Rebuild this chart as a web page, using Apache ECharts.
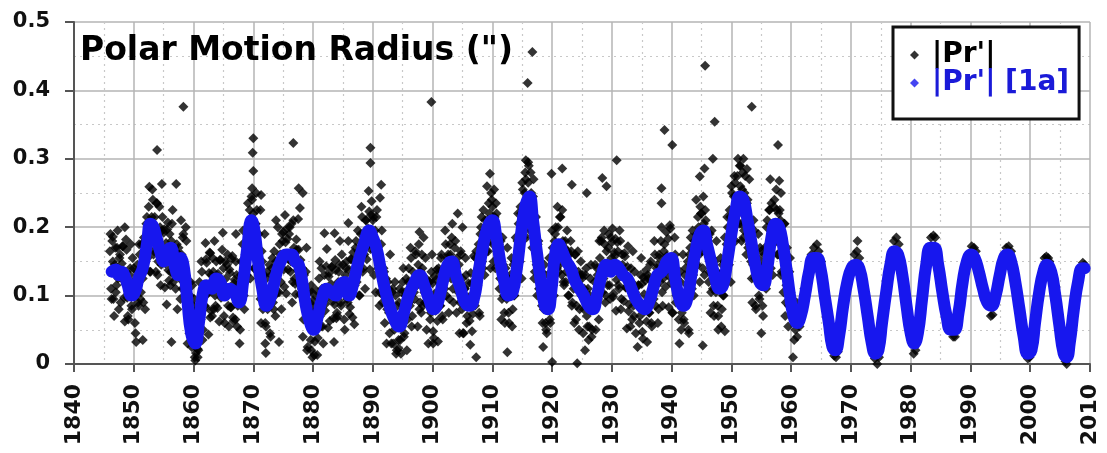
<!DOCTYPE html>
<html><head><meta charset="utf-8">
<script src="https://cdn.jsdelivr.net/npm/echarts@6/dist/echarts.min.js"></script>
<style>html,body{margin:0;padding:0;background:#fff}#c{width:1107px;height:453px}</style>
</head><body><div id="c"></div>
<script>
// ---- data ----
const seriesNames = ["|Pr'|", "|Pr'| [1a]"];
const titleText = 'Polar Motion Radius (")';
const yTicks = [0, 0.1, 0.2, 0.3, 0.4, 0.5];
const xTicks = [1840,1850,1860,1870,1880,1890,1900,1910,1920,1930,1940,1950,1960,1970,1980,1990,2000,2010];

// |Pr'| [1a]: 1-year smoothed polar motion radius (arcsec), [year, value]
const prSmooth1a = [
[1846.3,0.135],[1847,0.138],[1847.5,0.13],[1848,0.135],[1848.5,0.128],[1849,0.115],[1849.6,0.10],[1850.2,0.105],[1850.8,0.125],
[1851.5,0.14],[1852.2,0.175],[1852.8,0.205],[1853.3,0.2],[1853.8,0.185],[1854.4,0.165],[1855,0.15],[1855.6,0.165],[1856.2,0.17],
[1856.8,0.145],[1857.4,0.13],[1857.9,0.155],[1858.4,0.14],[1859,0.09],[1859.6,0.045],[1860.3,0.03],[1860.9,0.06],[1861.5,0.1],
[1862.2,0.115],[1863,0.11],[1863.8,0.125],[1864.5,0.12],[1865.2,0.1],[1866,0.11],[1866.8,0.105],[1867.6,0.09],[1868.3,0.12],
[1869,0.17],[1869.7,0.21],[1870.2,0.195],[1870.8,0.15],[1871.5,0.11],[1872.2,0.085],[1873,0.1],[1873.8,0.13],[1874.6,0.15],
[1875.5,0.16],[1876.4,0.16],[1877,0.15],[1877.6,0.145],[1878.2,0.12],[1878.8,0.085],[1879.5,0.06],[1880.1,0.05],[1880.8,0.07],
[1881.5,0.095],[1882.3,0.11],[1883,0.105],[1883.8,0.1],[1884.5,0.115],[1885.3,0.12],[1886,0.1],[1886.8,0.12],[1887.6,0.15],
[1888.5,0.175],[1889.4,0.195],[1890,0.185],[1890.6,0.17],[1891.3,0.14],[1892,0.11],[1892.8,0.085],[1893.6,0.065],[1894.4,0.055],
[1895.2,0.075],[1896,0.1],[1897,0.12],[1897.8,0.13],[1898.6,0.115],[1899.4,0.095],[1900.2,0.08],[1900.9,0.09],[1901.7,0.12],
[1902.5,0.145],[1903.2,0.15],[1903.9,0.13],[1904.7,0.11],[1905.4,0.09],[1906.2,0.085],[1906.9,0.095],[1907.6,0.13],[1908.4,0.17],
[1909.2,0.2],[1910,0.21],[1910.6,0.19],[1911.3,0.15],[1912,0.12],[1912.7,0.1],[1913.4,0.105],[1914.1,0.14],[1914.8,0.19],
[1915.5,0.23],[1916.2,0.245],[1916.8,0.21],[1917.5,0.16],[1918.2,0.115],[1918.8,0.085],[1919.3,0.08],[1919.9,0.11],[1920.5,0.16],
[1921.1,0.175],[1921.7,0.165],[1922.4,0.15],[1923.1,0.14],[1923.9,0.12],[1924.6,0.11],[1925.3,0.1],[1926.1,0.085],[1926.8,0.08],
[1927.5,0.1],[1928.3,0.13],[1929.1,0.145],[1929.8,0.135],[1930.5,0.145],[1931.2,0.14],[1931.9,0.13],[1932.6,0.125],[1933.3,0.11],
[1934,0.095],[1934.8,0.085],[1935.5,0.08],[1936.2,0.09],[1936.9,0.11],[1937.6,0.13],[1938.4,0.135],[1939.2,0.15],[1939.9,0.155],
[1940.6,0.125],[1941.3,0.095],[1942,0.085],[1942.6,0.095],[1943.3,0.13],[1944,0.165],[1944.7,0.19],[1945.3,0.195],[1945.9,0.175],
[1946.6,0.15],[1947.3,0.125],[1948,0.11],[1948.6,0.115],[1949.3,0.15],[1950,0.19],[1950.7,0.225],[1951.4,0.245],[1952,0.24],
[1952.6,0.215],[1953.3,0.18],[1954,0.145],[1954.7,0.12],[1955.3,0.115],[1956,0.14],[1956.7,0.185],[1957.4,0.205],[1958,0.2],
[1958.6,0.175],[1959.2,0.14],[1959.8,0.1],[1960.4,0.07],[1961,0.06],[1961.6,0.07],[1962.3,0.1],[1963,0.135],[1963.7,0.155],
[1964.3,0.155],[1964.9,0.14],[1965.6,0.1],[1966.3,0.06],[1966.9,0.025],[1967.4,0.02],[1968,0.04],[1968.7,0.085],[1969.4,0.12],
[1970.1,0.14],[1970.8,0.145],[1971.4,0.14],[1972.1,0.11],[1972.8,0.07],[1973.5,0.03],[1974.1,0.015],[1974.6,0.02],[1975.2,0.06],
[1975.9,0.105],[1976.6,0.145],[1977.3,0.165],[1977.9,0.16],[1978.6,0.13],[1979.3,0.085],[1980,0.045],[1980.6,0.03],[1981.2,0.045],
[1981.9,0.095],[1982.6,0.145],[1983.3,0.17],[1983.9,0.17],[1984.6,0.145],[1985.3,0.105],[1986,0.07],[1986.7,0.05],[1987.3,0.05],
[1988,0.075],[1988.7,0.12],[1989.4,0.15],[1990.1,0.16],[1990.7,0.155],[1991.4,0.135],[1992.1,0.11],[1992.8,0.09],[1993.5,0.085],
[1994.2,0.1],[1994.9,0.13],[1995.6,0.155],[1996.2,0.16],[1996.8,0.15],[1997.5,0.12],[1998.2,0.08],[1998.9,0.04],[1999.6,0.015],
[2000.2,0.02],[2000.8,0.06],[2001.5,0.105],[2002.2,0.135],[2002.8,0.145],[2003.5,0.135],[2004.2,0.1],[2004.9,0.055],[2005.6,0.015],
[2006.1,0.01],[2006.6,0.03],[2007.3,0.08],[2008,0.12],[2008.7,0.14],[2009.1,0.14]
];

// |Pr'| raw values in milli-arcsec, one row per year from rawStartYear
const rawStartYear = 1846;
// first set of samples within each year
const rawSampleOffsetsA = [0.1, 0.3, 0.5, 0.7, 0.9];
const prRawMasA = [
[190,95,150,70,170],[115,195,80,160,130],[172,122,62,182,97],[65,130,175,80,115],[115,45,135,90,175],
[95,175,125,185,80],[205,155,230,135,195],[255,160,215,135,235],[150,230,115,195,165],[197,147,87,207,122],
[115,180,225,130,165],[150,80,170,125,210],[110,190,140,200,95],[95,45,120,25,85],[95,5,55,10,75],
[70,150,35,115,85],[153,103,43,163,78],[70,135,180,85,120],[132,62,152,107,192],[70,150,100,160,55],
[133,83,158,63,123],[150,55,110,30,130],[115,195,80,160,130],[235,185,125,245,160],[140,205,250,155,190],
[130,60,150,105,190],[55,135,85,145,40],[140,90,165,70,130],[200,105,160,80,180],[138,218,103,183,153],
[200,150,90,210,125],[102,167,212,117,152],[110,40,130,85,170],[25,105,55,115,10],[83,33,108,13,73],
[150,55,110,30,130],[88,168,53,133,103],[142,92,32,152,67],[70,135,180,85,120],[120,50,140,95,180],
[73,153,103,163,58],[170,120,195,100,160],[230,135,190,110,210],[173,253,138,218,188],[215,165,105,225,140],
[85,150,195,100,135],[100,30,120,75,160],[30,110,60,120,15],[85,35,110,15,75],[140,45,100,20,120],
[90,170,55,135,105],[165,115,55,175,90],[75,140,185,90,125],[100,30,120,75,160],[48,128,78,138,33],
[135,85,160,65,125],[195,100,155,75,175],[125,205,90,170,140],[155,105,45,165,80],[45,110,155,60,95],
[98,28,118,73,158],[85,165,115,175,70],[200,150,225,130,190],[260,165,220,140,240],[175,255,140,220,190],
[175,125,65,185,100],[60,125,170,75,110],[125,55,145,100,185],[140,220,170,230,125],[255,205,280,185,245],
[290,195,250,170,270],[135,215,100,180,150],[135,85,25,145,60],[45,110,155,60,95],[170,100,190,145,230],
[135,215,165,225,120],[170,120,195,100,160],[180,85,140,60,160],[85,165,50,130,100],[130,80,20,140,55],
[35,100,145,50,85],[120,50,140,95,180],[105,185,135,195,90],[165,115,190,95,155],[198,103,158,78,178],
[115,195,80,160,130],[162,112,52,172,87],[55,120,165,70,105],[95,25,115,70,155],[47,127,77,137,32],
[125,75,150,55,115],[180,85,140,60,160],[120,200,85,165,135],[193,143,83,203,118],[75,140,185,90,125],
[100,30,120,75,160],[60,140,90,150,45],[170,120,195,100,160],[240,145,200,120,220],[165,245,130,210,180],
[185,135,75,195,110],[70,135,180,85,120],[125,55,145,100,185],[135,215,165,225,120],[250,200,275,180,240],
[300,205,260,180,280],[195,275,160,240,210],[200,150,90,210,125],[80,145,190,95,130],[140,70,160,115,200],
[145,225,175,235,130],[230,180,255,160,220],[225,130,185,105,205],[90,170,55,135,105]
];
// second set of samples within each year
const rawSampleOffsetsB = [0.0, 0.2, 0.4, 0.6, 0.8];
const prRawMasB = [
[165,110,180,95,145],[105,170,125,155,90],[147,172,97,117,167],[70,115,140,85,155],[140,60,125,145,85],
[160,105,175,90,140],[150,215,170,200,135],[215,240,165,185,235],[130,175,200,145,215],[192,112,177,197,137],
[190,135,205,120,170],[110,175,130,160,95],[160,185,110,130,180],[30,75,100,45,115],[75,10,60,80,20],
[120,65,135,50,100],[83,148,103,133,68],[130,155,80,100,150],[82,127,152,97,167],[140,60,125,145,85],
[138,83,153,68,118],[65,130,85,115,50],[150,175,100,120,170],[155,200,225,170,240],[220,140,205,225,165],
[150,95,165,80,130],[60,125,80,110,45],[130,155,80,100,150],[105,150,175,120,190],[193,113,178,198,138],
[190,135,205,120,170],[117,182,137,167,102],[115,140,65,85,135],[20,65,90,35,105],[93,13,78,98,38],
[125,70,140,55,105],[78,143,98,128,63],[117,142,67,87,137],[75,120,145,90,160],[145,65,130,150,90],
[138,83,153,68,118],[115,180,135,165,100],[190,215,140,160,210],[153,198,223,168,238],[210,130,195,215,155],
[160,105,175,90,140],[60,125,80,110,45],[80,105,30,50,100],[20,65,90,35,105],[120,40,105,125,65],
[140,85,155,70,120],[95,160,115,145,80],[135,160,85,105,155],[50,95,120,65,135],[118,38,103,123,63],
[140,85,155,70,120],[110,175,130,160,95],[160,185,110,130,180],[75,120,145,90,160],[125,45,110,130,70],
[118,63,133,48,98],[90,155,110,140,75],[190,215,140,160,210],[165,210,235,180,250],[230,150,215,235,175],
[165,110,180,95,145],[75,140,95,125,60],[130,155,80,100,150],[135,180,205,150,220],[265,185,250,270,210],
[265,210,280,195,245],[125,190,145,175,110],[110,135,60,80,130],[50,95,120,65,135],[195,115,180,200,140],
[200,145,215,130,180],[115,180,135,165,100],[140,165,90,110,160],[65,110,135,80,150],[125,45,110,130,70],
[110,55,125,40,90],[80,145,100,130,65],[155,180,105,125,175],[100,145,170,115,185],[178,98,163,183,123],
[165,110,180,95,145],[92,157,112,142,77],[115,140,65,85,135],[45,90,115,60,130],[117,37,102,122,62],
[130,75,145,60,110],[95,160,115,145,80],[155,180,105,125,175],[113,158,183,128,198],[155,75,140,160,100],
[120,65,135,50,100],[65,130,85,115,50],[160,185,110,130,180],[145,190,215,160,230],[220,140,205,225,165],
[175,120,190,105,155],[85,150,105,135,70],[130,155,80,100,150],[130,175,200,145,215],[260,180,245,265,205],
[275,220,290,205,255],[185,250,205,235,170],[175,200,125,145,195],[85,130,155,100,170],[165,85,150,170,110],
[210,155,225,140,190],[175,240,195,225,160],[185,210,135,155,205],[70,115,140,85,155]
];

// |Pr'| individual points (outliers and post-1960 edges), [year, arcsec]
const prRawExtra = [
[1858.3,0.376],[1853.9,0.313],[1852.6,0.259],[1854.7,0.263],[1857.1,0.263],
[1870,0.33],[1869.9,0.309],[1870,0.282],[1869.8,0.257],[1871.3,0.247],[1871.2,0.225],
[1850.4,0.032],[1851.5,0.035],[1856.3,0.032],[1860.4,0.016],[1860.7,0.022],
[1872,0.03],[1872.1,0.016],[1873.8,0.21],
[1876.7,0.323],[1877.6,0.257],[1878.3,0.25],[1877.8,0.228],
[1889.6,0.316],[1889.6,0.294],[1891.4,0.262],[1891.2,0.243],
[1899.8,0.383],[1879.7,0.02],[1894.3,0.023],[1900.1,0.03],[1907.3,0.01],[1874.3,0.032],
[1916.7,0.456],[1915.9,0.411],[1915.6,0.298],[1916,0.295],[1909.6,0.278],
[1921.7,0.286],[1919.9,0.278],[1930.8,0.298],[1938.8,0.342],[1940.1,0.32],[1938.3,0.257],[1938.3,0.235],
[1920,0.003],[1924.2,0.001],[1912.5,0.017],[1928.4,0.272],[1929.1,0.26],[1925.8,0.25],[1923.3,0.262],
[1953.4,0.376],[1947.2,0.354],[1945.6,0.436],[1957.8,0.32],[1946.9,0.3],[1945.5,0.286],[1944.7,0.274],
[1952,0.3],[1952.6,0.285],[1953,0.27],[1951.5,0.29],[1956.5,0.27],[1958,0.268],[1958.3,0.25],
[1945.2,0.027],[1947.8,0.05],[1948.9,0.048],[1955,0.045],
[1862,0.177],[1862.8,0.162],[1867.1,0.19],[1881.9,0.191],[1883.6,0.191],[1885.9,0.206],[1897.8,0.193],[1904.2,0.22],[1905,0.2],
[1846.5,0.186],[1848.5,0.2],
[1960.3,0.01],[1960.5,0.035],[1960.7,0.05],[1961,0.04],[1961.2,0.075],[1961.4,0.055],[1960.9,0.09],[1961.6,0.065],[1962.2,0.11],
[1963.8,0.17],[1964.3,0.175],[1964.6,0.165],[1963.4,0.16],[1965,0.15],
[1967.2,0.012],[1967.5,0.01],[1967.8,0.018],
[1970.6,0.16],[1971,0.165],[1971.1,0.18],[1971.4,0.155],
[1974,0.008],[1974.4,0.0],[1974.7,0.01],
[1977.2,0.18],[1977.6,0.185],[1978,0.175],
[1980.5,0.015],[1980.8,0.02],
[1983.4,0.185],[1983.8,0.188],[1984.1,0.185],
[1987.1,0.04],[1987.4,0.04],
[1990.2,0.172],[1990.6,0.17],[1990.9,0.165],
[1993.4,0.07],[1993.7,0.072],
[1996,0.17],[1996.4,0.172],[1996.8,0.165],
[1999.6,0.008],[1999.9,0.01],
[2002.4,0.155],[2002.7,0.157],[2003,0.155],[2003.2,0.15],
[2005.9,0.004],[2006.1,0.0],[2006.3,0.008],
[2008.8,0.148],[2009.1,0.145]
];

// ---- build chart ----
const rawPoints = [];
function addRows(rows, offsets) {
  rows.forEach((row, i) => {
    row.forEach((mas, k) => rawPoints.push([rawStartYear + i + offsets[k], mas / 1000]));
  });
}
addRows(prRawMasA, rawSampleOffsetsA);
addRows(prRawMasB, rawSampleOffsetsB);
prRawExtra.forEach(p => rawPoints.push(p));

const FONT = 'DejaVu Sans';
const BLUE = '#1717ee';
const chart = echarts.init(document.getElementById('c'), null, {renderer: 'canvas'});
chart.setOption({
  animation: false,
  backgroundColor: '#fff',
  title: {
    text: titleText, left: 80, top: 35, padding: 0,
    textStyle: {fontFamily: FONT, fontWeight: 'bold', fontSize: 33, color: '#000'}
  },
  legend: {
    left: 893, top: 27, orient: 'vertical',
    padding: [14, 10, 22, 17], itemGap: 0, itemWidth: 9, itemHeight: 9,
    borderColor: '#111', borderWidth: 3, backgroundColor: '#fff',
    textStyle: {fontFamily: FONT, fontWeight: 'bold', fontSize: 28, color: '#000', lineHeight: 27, padding: [0, 0, 0, 8]},
    data: [
      {name: seriesNames[0], icon: 'diamond'},
      {name: seriesNames[1], icon: 'diamond', textStyle: {color: '#1a1ad8'}}
    ]
  },
  grid: {left: 74, right: 17, top: 22, bottom: 89, containLabel: false},
  xAxis: {
    type: 'value', min: xTicks[0], max: xTicks[xTicks.length - 1], interval: 10,
    axisLine: {show: true, onZero: false, lineStyle: {color: '#555', width: 2}},
    axisTick: {show: true, length: 8, lineStyle: {color: '#555', width: 2}},
    minorTick: {show: false, splitNumber: 2},
    splitLine: {show: true, lineStyle: {color: '#b5b5b5', width: 1.5}},
    minorSplitLine: {show: true, lineStyle: {color: '#c8c8c8', width: 1.2, type: [2, 4]}},
    axisLabel: {rotate: 90, margin: 20, fontFamily: FONT, fontWeight: 'bold', fontSize: 22, color: '#111',
      formatter: v => String(v)}
  },
  yAxis: {
    type: 'value', min: yTicks[0], max: yTicks[yTicks.length - 1], interval: 0.1,
    axisLine: {show: true, lineStyle: {color: '#555', width: 2}},
    axisTick: {show: true, length: 9, lineStyle: {color: '#555', width: 2}},
    minorTick: {show: false, splitNumber: 2},
    splitLine: {show: true, lineStyle: {color: '#b5b5b5', width: 1.5}},
    minorSplitLine: {show: true, lineStyle: {color: '#c8c8c8', width: 1.2, type: [2, 4]}},
    axisLabel: {margin: 24, fontFamily: FONT, fontWeight: 'bold', fontSize: 21, color: '#111',
      formatter: v => (Math.round(v * 10) / 10).toString()}
  },
  series: [
    {
      name: seriesNames[0], type: 'scatter', data: rawPoints,
      symbol: 'diamond', symbolSize: 10,
      itemStyle: {color: '#000'}, z: 2
    },
    // legend-only entry so the [1a] key shows a plain diamond like the reference
    {
      name: seriesNames[1], type: 'scatter', data: [],
      symbol: 'diamond', itemStyle: {color: BLUE}, z: 1
    },
    {
      name: seriesNames[1], type: 'line', data: prSmooth1a,
      smooth: true, showSymbol: false, symbol: 'diamond',
      lineStyle: {color: BLUE, width: 12, join: 'round', cap: 'round'},
      itemStyle: {color: BLUE}, z: 3
    }
  ]
});
</script>
</body></html>
